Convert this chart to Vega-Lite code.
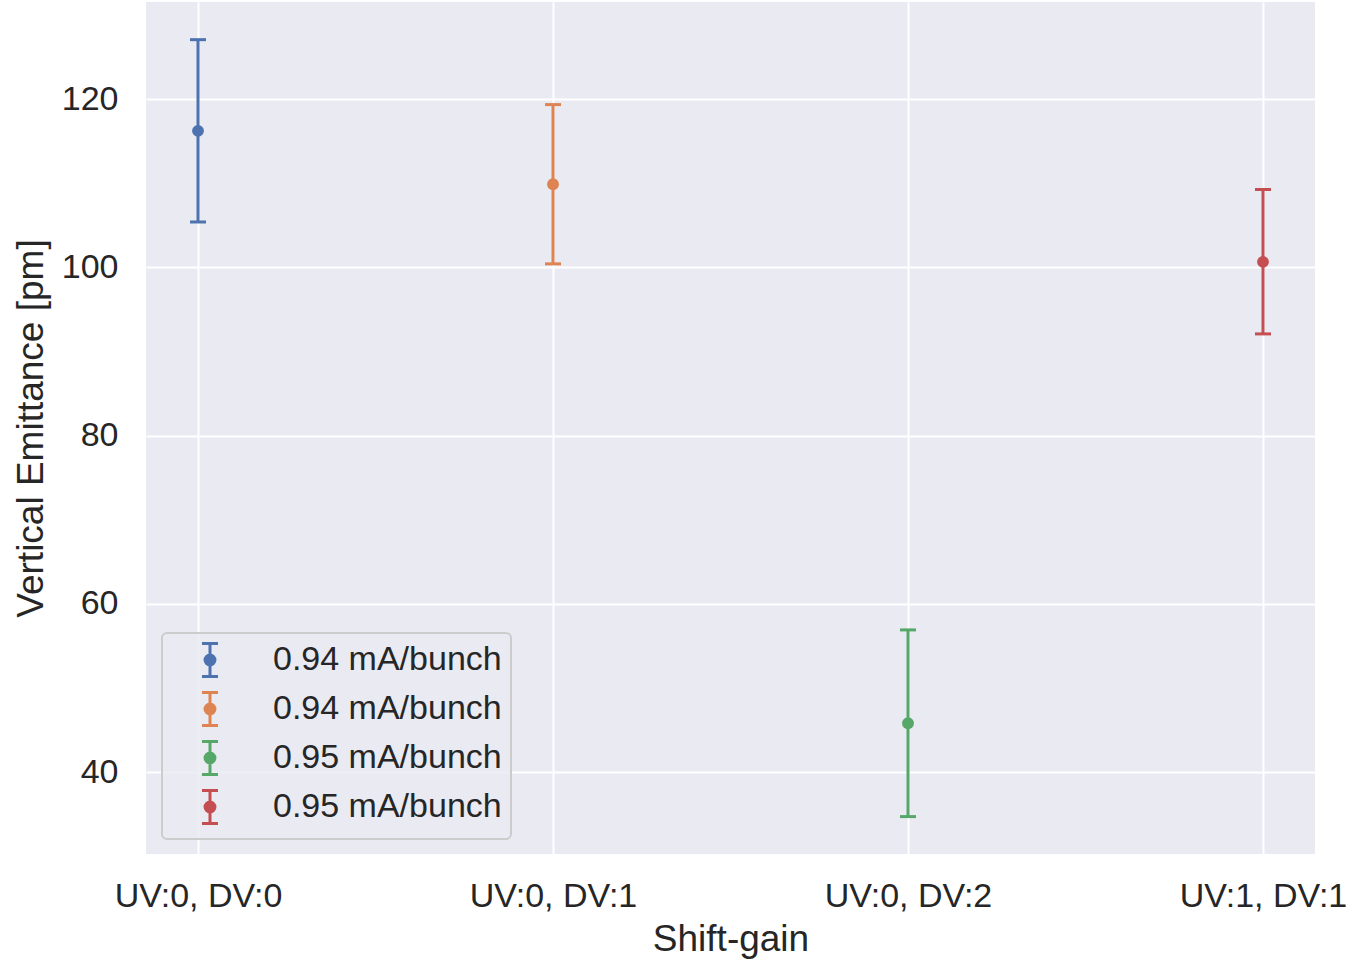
{
  "$schema": "https://vega.github.io/schema/vega-lite/v6.json",
  "autosize": {"type": "none"},
  "width": 1169,
  "height": 852,
  "padding": {"left": 146, "top": 2, "right": 43, "bottom": 113},
  "background": "white",
  "config": {
    "font": "Liberation Sans",
    "view": {"fill": "#eaeaf2", "stroke": null},
    "axis": {
      "labelFont": "Liberation Sans",
      "labelFontSize": 34,
      "labelColor": "#262626",
      "titleFont": "Liberation Sans",
      "titleFontSize": 37,
      "titleFontWeight": "normal",
      "titleColor": "#262626",
      "grid": true,
      "gridColor": "#ffffff",
      "gridWidth": 2,
      "gridOpacity": 1,
      "domain": false,
      "ticks": false
    },
    "legend": {
      "labelFont": "Liberation Sans",
      "labelFontSize": 34,
      "labelColor": "#262626"
    }
  },
  "data": {
    "values": [
      {"shift": "UV:0, DV:0", "series": "0.94 mA/bunch (UV:0, DV:0)", "emittance": 116.25, "lo": 105.41, "hi": 127.09},
      {"shift": "UV:0, DV:1", "series": "0.94 mA/bunch (UV:0, DV:1)", "emittance": 109.9, "lo": 100.43, "hi": 119.37},
      {"shift": "UV:0, DV:2", "series": "0.95 mA/bunch (UV:0, DV:2)", "emittance": 45.8, "lo": 34.7, "hi": 56.9},
      {"shift": "UV:1, DV:1", "series": "0.95 mA/bunch (UV:1, DV:1)", "emittance": 100.67, "lo": 92.1, "hi": 109.27}
    ]
  },
  "encoding": {
    "x": {
      "field": "shift",
      "type": "nominal",
      "sort": null,
      "scale": {"type": "point", "padding": 0.1465},
      "axis": {
        "title": "Shift-gain",
        "labelAngle": 0,
        "labelPadding": 25,
        "labelOverlap": false,
        "labelLimit": 400,
        "titlePadding": 8
      }
    },
    "color": {
      "field": "series",
      "type": "nominal",
      "scale": {
        "domain": ["0.94 mA/bunch (UV:0, DV:0)", "0.94 mA/bunch (UV:0, DV:1)", "0.95 mA/bunch (UV:0, DV:2)", "0.95 mA/bunch (UV:1, DV:1)"],
        "range": ["#4c72b0", "#dd8452", "#55a868", "#c44e52"]
      },
      "legend": {
        "title": null,
        "orient": "none",
        "legendX": 16,
        "legendY": 631,
        "padding": 9,
        "rowPadding": 3,
        "symbolOffset": 21,
        "labelOffset": 45,
        "labelLimit": 600,
        "symbolType": "M0,-1V1M-0.485,-1H0.485M-0.485,1H0.485M-0.3,0A0.3,0.3,0,1,1,0.3,0A0.3,0.3,0,1,1,-0.3,0Z",
        "symbolSize": 1089,
        "symbolStrokeWidth": 3,
        "labelExpr": "split(datum.label, ' (')[0]",
        "fillColor": "rgba(234,234,242,0.8)",
        "strokeColor": "#cccccc",
        "cornerRadius": 5,
        "encode": {
          "legend": {
            "update": {"strokeWidth": {"value": 2}}
          },
          "symbols": {
            "update": {
              "fill": {"scale": "color", "field": "value"},
              "stroke": {"scale": "color", "field": "value"},
              "opacity": {"value": 1},
              "fillOpacity": {"value": 1},
              "strokeOpacity": {"value": 1}
            }
          }
        }
      }
    }
  },
  "layer": [
    {
      "mark": {"type": "rule", "strokeWidth": 3},
      "encoding": {
        "y": {
          "field": "lo",
          "type": "quantitative",
          "scale": {"domain": [30.25, 131.57], "nice": false, "zero": false},
          "axis": {
            "title": "Vertical Emittance [pm]",
            "values": [40, 60, 80, 100, 120],
            "labelPadding": 28,
            "titlePadding": 11
          }
        },
        "y2": {"field": "hi"}
      }
    },
    {
      "mark": {"type": "tick", "orient": "horizontal", "size": 16, "thickness": 3, "opacity": 1},
      "encoding": {"y": {"field": "lo", "type": "quantitative"}}
    },
    {
      "mark": {"type": "tick", "orient": "horizontal", "size": 16, "thickness": 3, "opacity": 1},
      "encoding": {"y": {"field": "hi", "type": "quantitative"}}
    },
    {
      "mark": {"type": "point", "filled": true, "size": 140, "opacity": 1},
      "encoding": {"y": {"field": "emittance", "type": "quantitative"}}
    }
  ]
}
